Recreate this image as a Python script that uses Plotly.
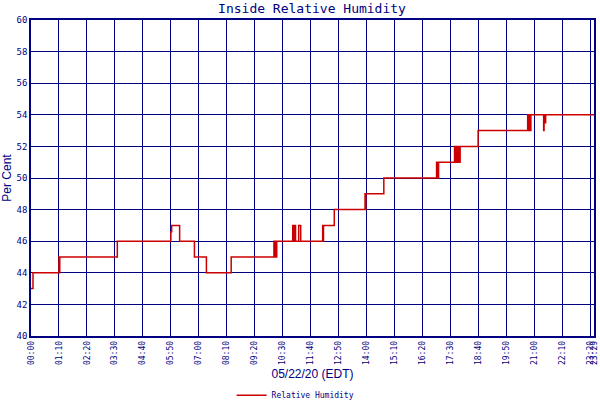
import plotly.graph_objects as go

# minutes after midnight and relative humidity (%)
minutes = [0, 5, 70, 71, 72, 216, 350, 352, 372, 409, 439, 501,
           608, 609, 610, 611, 612, 613, 615,
           655, 656, 657, 658, 659, 660, 661, 662, 667, 670, 675,
           730, 731, 732, 759, 836, 837, 838, 883,
           1015, 1016, 1018, 1019, 1020,
           1060, 1061, 1062, 1063, 1064, 1065, 1066, 1067, 1068, 1069, 1070, 1071, 1072, 1073, 1074,
           1119, 1243, 1244, 1245, 1246, 1247, 1248, 1249, 1250, 1251,
           1283, 1284, 1287, 1288, 1409]
humidity = [43, 44, 45, 44, 45, 46, 46.6, 47, 46, 45, 44, 45,
            46, 45, 46, 45, 46, 45, 46,
            47, 46, 47, 46, 47, 46, 47, 46, 46, 47, 46,
            47, 46, 47, 48, 49, 48, 49, 50,
            51, 50, 51, 50, 51,
            52, 51, 52, 51, 52, 51, 52, 51, 52, 51, 52, 51, 52, 51, 52,
            53, 54, 53, 54, 53, 54, 53, 54, 53, 54,
            53, 54, 53.5, 54, 54]

tick_labels = ["00:00", "01:10", "02:20", "03:30", "04:40", "05:50", "07:00", "08:10",
               "09:20", "10:30", "11:40", "12:50", "14:00", "15:10", "16:20", "17:30",
               "18:40", "19:50", "21:00", "22:10", "23:20", "23:29"]
tick_minutes = [int(s[:2]) * 60 + int(s[3:]) for s in tick_labels]

navy = "#000080"
mono = "DejaVu Sans Mono"

fig = go.Figure()
fig.add_trace(go.Scatter(x=minutes, y=humidity, mode="lines", line_shape="hv",
                         line=dict(color="#cc0000", width=1.5), name="Relative Humidity"))

fig.update_layout(
    width=600, height=400,
    margin=dict(l=31, r=6, t=20, b=64),
    paper_bgcolor="white", plot_bgcolor="white",
    title=dict(text="Inside Relative Humidity", x=0.52, xanchor="center", y=0.99, yanchor="top",
               automargin=False, font=dict(family=mono, size=13, color=navy)),
    showlegend=True,
    legend=dict(orientation="h", x=0.47, xanchor="center", yref="container", y=0.012,
                yanchor="middle", font=dict(family=mono, size=8, color=navy), itemwidth=30),
)
fig.update_xaxes(range=[0, 1409], tickvals=tick_minutes, ticktext=tick_labels, tickangle=-90,
                 automargin=False,
                 showgrid=True, gridcolor=navy, gridwidth=1, showline=True, linecolor=navy,
                 linewidth=1.5, mirror=True, zeroline=False, ticks="",
                 tickfont=dict(family=mono, size=8, color=navy),
                 title=dict(text="05/22/20 (EDT)", standoff=16,
                            font=dict(family="Liberation Sans", size=12, color=navy)))
fig.update_yaxes(range=[40, 60], dtick=2, showgrid=True, gridcolor=navy, gridwidth=1,
                 automargin=False,
                 showline=True, linecolor=navy, linewidth=1.5, mirror=True, zeroline=False,
                 ticks="", tickfont=dict(family=mono, size=9, color=navy),
                 title=dict(text="Per Cent", standoff=4,
                            font=dict(family="Liberation Sans", size=12, color=navy)))

fig.write_html("out.html", config={"displayModeBar": False},
               post_script="document.body.style.margin = '0';")
